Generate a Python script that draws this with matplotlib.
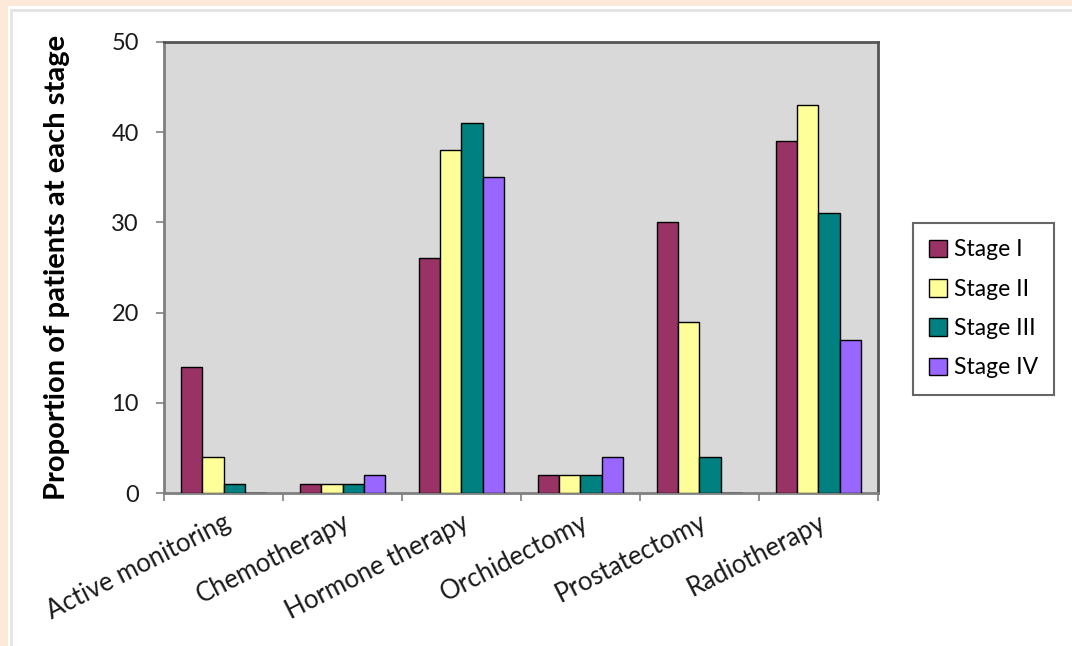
import matplotlib
matplotlib.use("Agg")
import matplotlib.pyplot as plt
from matplotlib.patches import Rectangle
import numpy as np

treatments = ["Active monitoring", "Chemotherapy", "Hormone therapy",
              "Orchidectomy", "Prostatectomy", "Radiotherapy"]
stages = ["Stage I", "Stage II", "Stage III", "Stage IV"]
stage1 = [14, 1, 26, 2, 30, 39]
stage2 = [4, 1, 38, 2, 19, 43]
stage3 = [1, 1, 41, 2, 4, 31]
stage4 = [0, 2, 35, 4, 0, 17]
colors = ["#993366", "#FFFF99", "#008080", "#9966FF"]

plt.rcParams["font.family"] = ["Lato", "DejaVu Sans"]

W, H = 1072, 646
fig = plt.figure(figsize=(W / 100, H / 100), dpi=100)
fig.patch.set_facecolor("#FDE9D9")
fig.patches.append(Rectangle((8 / W, 0), 1, 1 - 6 / H, transform=fig.transFigure,
                             facecolor="white", edgecolor="none", zorder=-10))
fig.lines.append(plt.Line2D([11 / W, 11 / W], [0, 1 - 10 / H], transform=fig.transFigure,
                            color="#E4E4E4", lw=2))
fig.lines.append(plt.Line2D([11 / W, 1], [1 - 10 / H, 1 - 10 / H], transform=fig.transFigure,
                            color="#E4E4E4", lw=2))

ax = fig.add_axes([164 / W, 1 - 493 / H, (878 - 164) / W, (493 - 42) / H])
ax.set_facecolor("#D9D9D9")

x = np.arange(len(treatments))
bw = 0.18
for i, (vals, lab) in enumerate(zip([stage1, stage2, stage3, stage4], stages)):
    ax.bar(x + (i - 1.5) * bw, vals, bw, color=colors[i], edgecolor="black",
           linewidth=1.0, label=lab, zorder=3)

ax.set_xlim(-0.5, len(treatments) - 0.5)
ax.set_ylim(0, 50)
ax.set_yticks([0, 10, 20, 30, 40, 50])
ax.set_xticks(x)
ax.set_xticks(np.arange(-0.5, len(treatments)), minor=True)
ax.set_xticklabels(treatments, rotation=27, ha="right", rotation_mode="anchor",
                   fontsize=18.5, color="#1a1a1a")
ax.tick_params(axis="x", which="major", length=0, pad=12)
ax.tick_params(axis="x", which="minor", length=6, width=1.2, color="#808080")
ax.tick_params(axis="y", length=6, width=1.2, color="#808080", labelsize=17,
               labelcolor="#1a1a1a", pad=12)

for side in ["left", "bottom"]:
    ax.spines[side].set_color("#808080")
    ax.spines[side].set_linewidth(2)
for side in ["top", "right"]:
    ax.spines[side].set_color("#555555")
    ax.spines[side].set_linewidth(2)

ax.set_ylabel("Proportion of patients at each stage", fontsize=21,
              fontweight="bold", labelpad=30)

leg = ax.legend(loc="center left", bbox_to_anchor=(913 / W, 1 - 309 / H),
                bbox_transform=fig.transFigure, fontsize=16.5, frameon=True,
                fancybox=False, handlelength=0.8, handleheight=0.8,
                handletextpad=0.3, labelspacing=0.8, borderpad=0.7,
                borderaxespad=0)
leg.get_frame().set_edgecolor("#404040")
leg.get_frame().set_linewidth(1.5)

fig.savefig("out.png", dpi=100, facecolor=fig.get_facecolor())
